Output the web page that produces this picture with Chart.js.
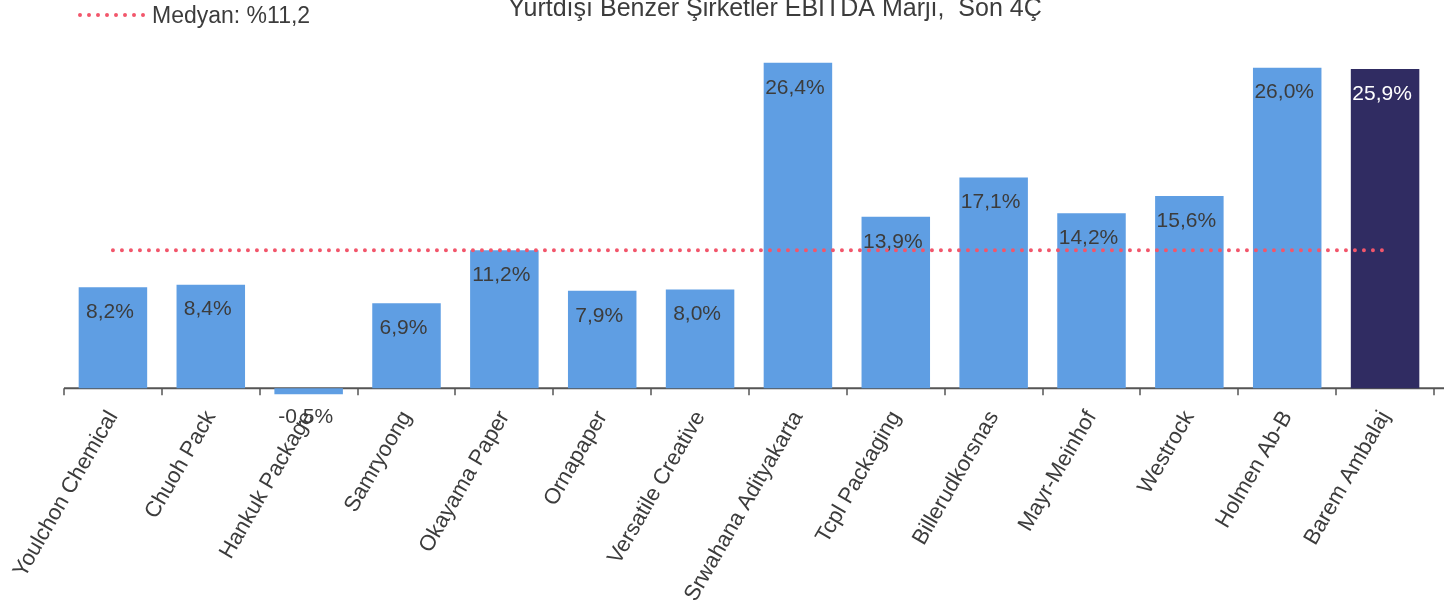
<!DOCTYPE html>
<html>
<head>
<meta charset="utf-8">
<script src="https://cdn.jsdelivr.net/npm/chart.js@4"></script>
<style>
  html, body { margin: 0; padding: 0; background: #fff; }
  #wrap { width: 1444px; height: 610px; }
</style>
</head>
<body>
<div id="wrap"><canvas id="chart"></canvas></div>
<script>
// data
const companies = ['Youlchon Chemical', 'Chuoh Pack', 'Hankuk Package', 'Samryoong', 'Okayama Paper',
  'Ornapaper', 'Versatile Creative', 'Srwahana Adityakarta', 'Tcpl Packaging', 'Billerudkorsnas',
  'Mayr-Meinhof', 'Westrock', 'Holmen Ab-B', 'Barem Ambalaj'];
const ebitdaMargins = [8.2, 8.4, -0.5, 6.9, 11.2, 7.9, 8.0, 26.4, 13.9, 17.1, 14.2, 15.6, 26.0, 25.9];
const medianValue = 11.2;
const medianLabel = 'Medyan: %11,2';
const chartTitle = 'Yurtdışı Benzer Şirketler EBITDA Marjı,  Son 4Ç';

const peerColor = '#5f9ee3';
const baremColor = '#302c62';
const medianColor = '#f2566b';
const textColor = '#3c3c3c';
const fontFamily = "'Liberation Sans', Arial, sans-serif";

const barColors = companies.map(c => c === 'Barem Ambalaj' ? baremColor : peerColor);

function fmt(v) {
  return v.toFixed(1).replace('.', ',') + '%';
}

// zero axis with tick marks between categories, title and legend
const decorPlugin = {
  id: 'decor',
  beforeDatasetsDraw(chart) {
    const ctx = chart.ctx;
    const x = chart.scales.x;
    const y = chart.scales.y;
    const y0 = y.getPixelForValue(0);
    const step = x.getPixelForValue(1) - x.getPixelForValue(0);
    ctx.save();
    ctx.strokeStyle = '#555';
    ctx.lineWidth = 2;
    ctx.beginPath();
    ctx.moveTo(chart.chartArea.left, y0);
    ctx.lineTo(chart.width, y0);
    ctx.stroke();
    ctx.lineWidth = 1.5;
    for (let i = 0; i <= companies.length; i++) {
      const px = Math.round(x.getPixelForValue(0) - step / 2 + i * step);
      ctx.beginPath();
      ctx.moveTo(px, y0);
      ctx.lineTo(px, y0 + 7);
      ctx.stroke();
    }
    ctx.restore();
  },
  afterDraw(chart) {
    const ctx = chart.ctx;
    ctx.save();
    // title, clipped by the top edge like in the source
    ctx.fillStyle = textColor;
    ctx.font = '25px ' + fontFamily;
    ctx.textAlign = 'center';
    ctx.textBaseline = 'alphabetic';
    ctx.fillText(chartTitle, 775, 16);
    // legend: dotted line + label
    ctx.strokeStyle = medianColor;
    ctx.lineWidth = 4;
    ctx.lineCap = 'round';
    ctx.setLineDash([0, 9]);
    ctx.beginPath();
    ctx.moveTo(80, 15);
    ctx.lineTo(150, 15);
    ctx.stroke();
    ctx.setLineDash([]);
    ctx.fillStyle = textColor;
    ctx.font = '23px ' + fontFamily;
    ctx.textAlign = 'left';
    ctx.textBaseline = 'middle';
    ctx.fillText(medianLabel, 152, 17);
    ctx.restore();
  }
};

// value labels inside the bar ends
const valueLabels = {
  id: 'valueLabels',
  afterDatasetsDraw(chart) {
    const ctx = chart.ctx;
    const meta = chart.getDatasetMeta(0);
    ctx.save();
    ctx.font = '21px ' + fontFamily;
    ctx.textAlign = 'center';
    ctx.textBaseline = 'middle';
    meta.data.forEach((bar, i) => {
      const v = ebitdaMargins[i];
      const ty = v >= 0 ? bar.y + 25 : bar.y + 23;
      ctx.fillStyle = companies[i] === 'Barem Ambalaj' ? '#ffffff' : textColor;
      ctx.fillText(fmt(v), bar.x - 3, ty);
    });
    ctx.restore();
  }
};

const ctx = document.getElementById('chart').getContext('2d');
new Chart(ctx, {
  type: 'bar',
  data: {
    labels: companies,
    datasets: [
      {
        type: 'bar',
        label: 'EBITDA Marjı',
        data: ebitdaMargins,
        backgroundColor: barColors,
        barPercentage: 0.7,
        categoryPercentage: 1.0,
        order: 2
      },
      {
        type: 'line',
        label: medianLabel,
        data: companies.map(() => medianValue),
        borderColor: medianColor,
        borderWidth: 4,
        borderDash: [0, 9],
        borderCapStyle: 'round',
        pointRadius: 0,
        fill: false,
        order: 1
      }
    ]
  },
  options: {
    responsive: true,
    maintainAspectRatio: false,
    animation: false,
    layout: { padding: { top: 43, left: 64, right: 10, bottom: 0 } },
    plugins: {
      legend: { display: false },
      title: { display: false },
      tooltip: { enabled: false }
    },
    scales: {
      x: {
        grid: { display: false },
        border: { display: false },
        ticks: {
          color: textColor,
          font: { family: fontFamily, size: 22 },
          minRotation: 60,
          maxRotation: 60,
          padding: 4,
          autoSkip: false
        }
      },
      y: {
        display: false,
        min: -0.5,
        max: 28
      }
    }
  },
  plugins: [decorPlugin, valueLabels]
});
</script>
</body>
</html>
